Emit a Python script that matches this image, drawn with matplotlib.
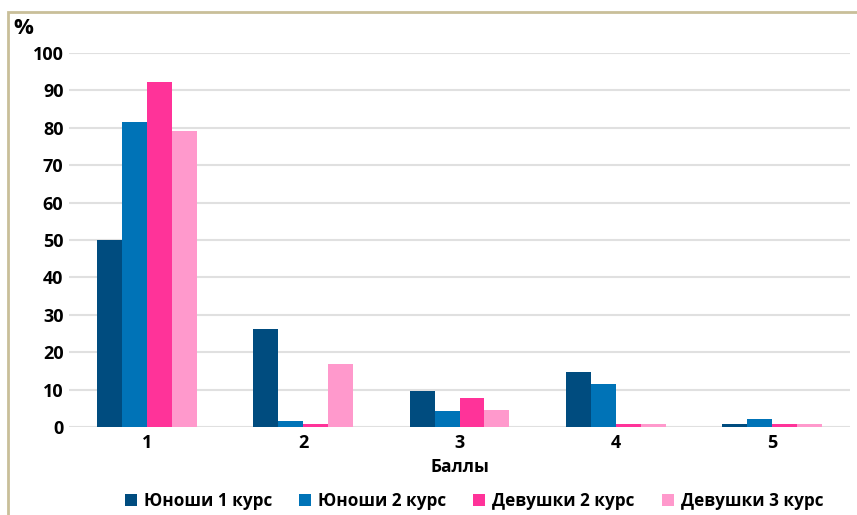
import numpy as np
import matplotlib.pyplot as plt
from matplotlib.patches import Rectangle, Patch

plt.rcParams['font.family'] = ['Open Sans', 'DejaVu Sans']
plt.rcParams['font.weight'] = 'bold'

# scores on the x axis
categories = ['1', '2', '3', '4', '5']
series_names = ['Юноши 1 курс', 'Юноши 2 курс', 'Девушки 2 курс', 'Девушки 3 курс']
boys_1 = [50.0, 26.2, 9.6, 14.8, 0.9]
boys_2 = [81.6, 1.7, 4.2, 11.4, 2.1]
girls_2 = [92.2, 0.9, 7.8, 0.9, 0.9]
girls_3 = [79.2, 16.9, 4.5, 0.9, 0.9]
yticks = [0, 10, 20, 30, 40, 50, 60, 70, 80, 90, 100]

colors = ['#004C7F', '#0073B7', '#FF3399', '#FF99CC']

W, H = 857, 515
fig = plt.figure(figsize=(W / 100, H / 100), dpi=100)
ax = fig.add_axes([69 / W, (H - 427) / H, (850 - 69) / W, (427 - 53) / H])

x = np.arange(len(categories))
bw = 0.16
all_series = [boys_1, boys_2, girls_2, girls_3]
for i, (vals, c) in enumerate(zip(all_series, colors)):
    ax.bar(x + (i - 1.5) * bw, vals, width=bw, color=c, zorder=3)

ax.set_xlim(-0.5, len(categories) - 0.5)
ax.set_ylim(0, 100)
ax.set_yticks(yticks)
ax.set_xticks(x)
ax.set_xticklabels(categories)
ax.tick_params(length=0, labelsize=13, pad=5)
ax.tick_params(axis='y', pad=4)
for s in ['top', 'right', 'left', 'bottom']:
    ax.spines[s].set_visible(False)
ax.grid(axis='y', color='#E0E0E0', linewidth=1.5, zorder=0)
ax.set_axisbelow(True)

ax.set_xlabel('Баллы', fontsize=12.5, fontweight='bold', labelpad=4)

fig.text(13 / W, 1 - 29 / H, '%', fontsize=16, fontweight='bold', va='center', ha='left')

handles = [Patch(facecolor=c, edgecolor='none') for c in colors]
fig.legend(handles, series_names, loc='center', ncol=4, frameon=False,
           bbox_to_anchor=(474 / W, 1 - 501 / H), fontsize=12.3,
           handlelength=0.7, handleheight=0.7, handletextpad=0.4, columnspacing=1.6)

# outer frame (only left and top visible)
fig.patches.append(Rectangle((8 / W, -0.05), 1.1, 1 - 12 / H + 0.05, transform=fig.transFigure,
                             fill=False, edgecolor='#C9BF99', linewidth=2))

fig.savefig('out.png', dpi=100)
